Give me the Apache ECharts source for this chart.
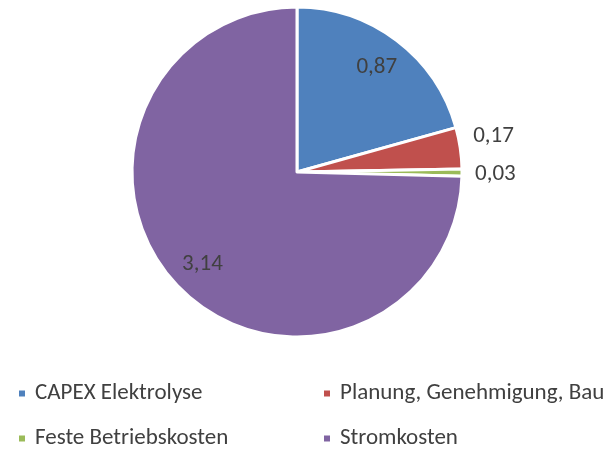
<!DOCTYPE html>
<html>
<head>
<meta charset="utf-8">
<script src="https://cdn.jsdelivr.net/npm/echarts@6/dist/echarts.min.js"></script>
<style>
  html, body { margin: 0; padding: 0; background: #fff; }
  #chart { width: 614px; height: 450px; }
</style>
</head>
<body>
<div id="chart"></div>
<script>
// Kostenanteile
const names = ['CAPEX Elektrolyse', 'Planung, Genehmigung, Bau', 'Feste Betriebskosten', 'Stromkosten']
const values = [0.87, 0.17, 0.03, 3.14]
const colors = ['#4f81bd', '#c0504d', '#9bbb59', '#8064a2']
// welche Werte stehen außen
const outside = [false, true, true, false]

const myChart = echarts.init(document.getElementById('chart'))
const fmt = (v) => v.toFixed(2).replace('.', ',')
const font = 'Carlito, "Liberation Sans", sans-serif'

const pieData = names.map((n, i) => ({ name: n, value: values[i] }))

// Legende in zwei Spalten, je Eintrag eine Komponente
const legendPos = [
  [17, 382],
  [322, 382],
  [17, 427],
  [322, 427],
]
const legends = names.map((n, i) => ({
  data: [n],
  left: legendPos[i][0],
  top: legendPos[i][1],
  padding: 0,
  itemWidth: 8,
  itemHeight: 8,
  icon: 'rect',
  textStyle: { color: '#404040', fontSize: 23, fontFamily: font, padding: [2, 0, 0, 4] },
}))

const option = {
  color: colors,
  animation: false,
  legend: legends,
  series: [
    {
      // eigentliche Tortenstücke, Werte außen
      type: 'pie',
      center: [297, 172],
      radius: [0, 165],
      startAngle: 90,
      clockwise: true,
      avoidLabelOverlap: false,
      itemStyle: { borderColor: '#fff', borderWidth: 3 },
      label: {
        position: 'outside',
        color: '#404040',
        fontSize: 23,
        fontFamily: font,
        formatter: (p) => (outside[p.dataIndex] ? fmt(p.value) : ''),
      },
      labelLine: { show: false, length: 4, length2: 4 },
      labelLayout: (p) => (p.dataIndex === 1 ? { dy: -11 } : { dy: 2 }),
      emphasis: { disabled: true },
      data: pieData,
    },
    {
      // unsichtbarer Ring nur für die Innen-Beschriftung
      type: 'pie',
      center: [297, 172],
      radius: [93, 165],
      startAngle: 90,
      clockwise: true,
      silent: true,
      itemStyle: { color: 'transparent' },
      label: {
        position: 'inside',
        color: '#404040',
        fontSize: 23,
        fontFamily: font,
        formatter: (p) => (outside[p.dataIndex] ? '' : fmt(p.value)),
      },
      labelLine: { show: false },
      data: pieData,
    },
  ],
}

myChart.setOption(option)
</script>
</body>
</html>
